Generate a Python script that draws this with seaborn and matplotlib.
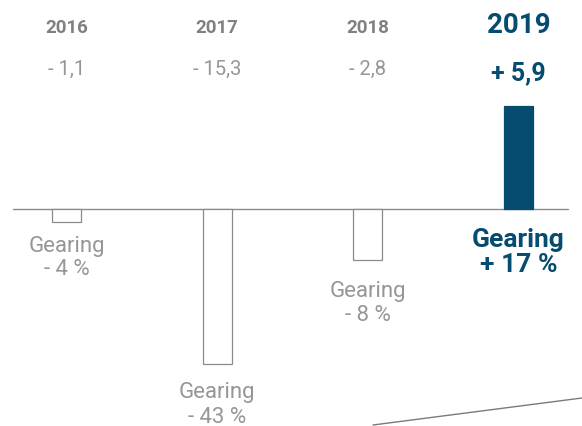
import matplotlib
matplotlib.use("Agg")
import matplotlib.pyplot as plt
import seaborn as sns

# values
years = ["2016", "2017", "2018", "2019"]
value_labels = ["- 1,1", "- 15,3", "- 2,8", "+ 5,9"]
gearing_labels = ["- 4 %", "- 43 %", "- 8 %", "+ 17 %"]
# bar lengths as drawn (picture scale, not proportional to the labels)
bar_heights = [-13, -155, -51, 103]

BLUE = "#064b70"
GREY_DARK = "#808080"
GREY_LIGHT = "#969696"
EDGE = "#8a8a8a"

sns.set_style("white")
plt.rcParams["font.family"] = ["Roboto", "DejaVu Sans"]

fig = plt.figure(figsize=(5.82, 4.27), dpi=100)
ax = fig.add_axes([0, 0, 1, 1])

sns.barplot(x=years, y=bar_heights, width=0.192, color="white",
            edgecolor=EDGE, linewidth=0.9, saturation=1, ax=ax)
last = ax.patches[-1]
last.set_facecolor(BLUE)
last.set_edgecolor(BLUE)

ax.set_xlim(-0.4414, 3.4214)
ax.set_ylim(-217, 210)
ax.axis("off")

# zero line
ax.axhline(0, xmin=13 / 582, xmax=568 / 582, color=EDGE, lw=1.0, zorder=0)

# decorative slanted line bottom right
ax.plot([373 / 582, 1], [1 / 427, 28 / 427], transform=ax.transAxes,
        color="#7a7a7a", lw=1.0, clip_on=False)

def py(px):
    # pixel row from top -> data y
    return 210 - px

# label baselines in pixel rows (gearing word, gearing value)
gear_rows = [(252, 275), (398, 423), (297, 321), (247, 272)]

for i, (yr, val, gl) in enumerate(zip(years, value_labels, gearing_labels)):
    hi = i == len(years) - 1
    if hi:
        ax.text(i, py(33), yr, ha="center", va="baseline", fontsize=20,
                fontweight="bold", color=BLUE)
        ax.text(i, py(80), val, ha="center", va="baseline", fontsize=18,
                fontweight="bold", color=BLUE)
        ax.text(i, py(gear_rows[i][0]), "Gearing", ha="center", va="baseline",
                fontsize=19, fontweight="bold", color=BLUE)
        ax.text(i, py(gear_rows[i][1]), gl, ha="center", va="baseline",
                fontsize=19, fontweight="bold", color=BLUE)
    else:
        ax.text(i, py(33), yr, ha="center", va="baseline", fontsize=13.5,
                fontweight="bold", color=GREY_DARK)
        ax.text(i, py(75), val, ha="center", va="baseline", fontsize=14.5,
                fontweight="normal", color=GREY_LIGHT)
        ax.text(i, py(gear_rows[i][0]), "Gearing", ha="center", va="baseline",
                fontsize=16, fontweight="normal", color=GREY_LIGHT)
        ax.text(i, py(gear_rows[i][1]), gl, ha="center", va="baseline",
                fontsize=16, fontweight="normal", color=GREY_LIGHT)

fig.savefig("out.png", dpi=100)
plt.close(fig)
